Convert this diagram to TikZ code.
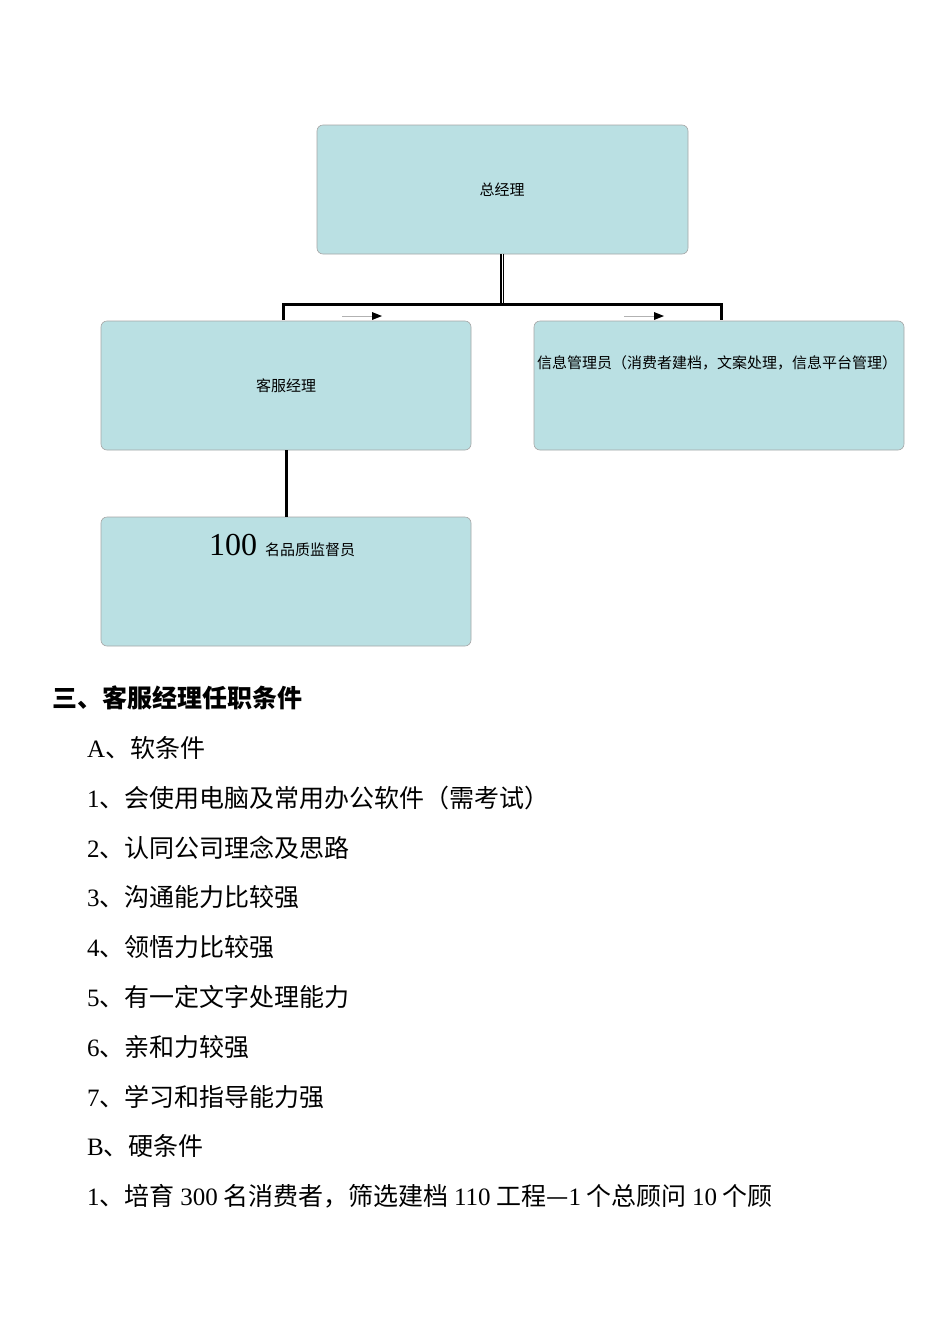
\documentclass[tikz,border=0pt]{standalone}
\usepackage{fontspec}
\setmainfont{Liberation Serif}
\newfontfamily\cjk{Noto Sans CJK SC}
\begin{document}
\begin{tikzpicture}[x=1pt,y=-1pt,
  orgbox/.style={draw=gray!70,fill={rgb,255:red,186;green,224;blue,227},rounded corners=6pt,line width=0.6pt},
  smallarr/.style={gray!60,line width=0.5pt},
  lbl/.style={font=\cjk\fontsize{15}{17}\selectfont},
  body/.style={anchor=west,inner sep=0pt,font=\fontsize{25}{28}\selectfont}]
\useasboundingbox (0,0) rectangle (950,1344);
\fill[white] (0,0) rectangle (950,1344);
\draw[orgbox] (317,125) rectangle (688,254);
\node[lbl] (gm) at (502,190) {总经理};
\draw[orgbox] (101,321) rectangle (471,450);
\node[lbl] (kf) at (286,386) {客服经理};
\draw[orgbox] (534,321) rectangle (904,450);
\node[lbl] (xx) at (717,363) {信息管理员（消费者建档，文案处理，信息平台管理）};
\draw[orgbox] (101,517) rectangle (471,646);
\node (pz) at (282,545) {\fontsize{32}{34}\selectfont 100 \cjk\fontsize{15}{17}\selectfont 名品质监督员};
\coordinate (t) at (502,254);
\coordinate (j) at (502,304);
\coordinate (l) at (283,304);
\coordinate (r) at (721,304);
\coordinate (lb) at (283,320);
\coordinate (rb) at (721,320);
\draw[line width=4.5pt] (t) -- (j);
\draw[white,line width=0.8pt] (t) -- (502,303);
\draw[line width=3pt] (lb) -- (l) -- (r) -- (rb);
\draw[line width=3pt] (286,450) -- (286,517);
\draw[smallarr] (342,316) -- (372,316);
\fill (372,312) -- (382,316) -- (372,320) -- cycle;
\draw[smallarr] (624,316) -- (654,316);
\fill (654,312) -- (664,316) -- (654,320) -- cycle;
\node[body] at (52,698) {\cjk\bfseries 三、客服经理任职条件};
\node[body] at (87,748) {A{\cjk 、软条件}};
\node[body] at (87,798) {1{\cjk 、会使用电脑及常用办公软件（需考试）}};
\node[body] at (87,848) {2{\cjk 、认同公司理念及思路}};
\node[body] at (87,897) {3{\cjk 、沟通能力比较强}};
\node[body] at (87,947) {4{\cjk 、领悟力比较强}};
\node[body] at (87,997) {5{\cjk 、有一定文字处理能力}};
\node[body] at (87,1047) {6{\cjk 、亲和力较强}};
\node[body] at (87,1097) {7{\cjk 、学习和指导能力强}};
\node[body] at (87,1146) {B{\cjk 、硬条件}};
\node[body] at (87,1196) {1{\cjk 、培育 }300{\cjk\ 名消费者，筛选建档 }110{\cjk\ 工程—}1{\cjk\ 个总顾问 }10{\cjk\ 个顾}};
\end{tikzpicture}
\end{document}
